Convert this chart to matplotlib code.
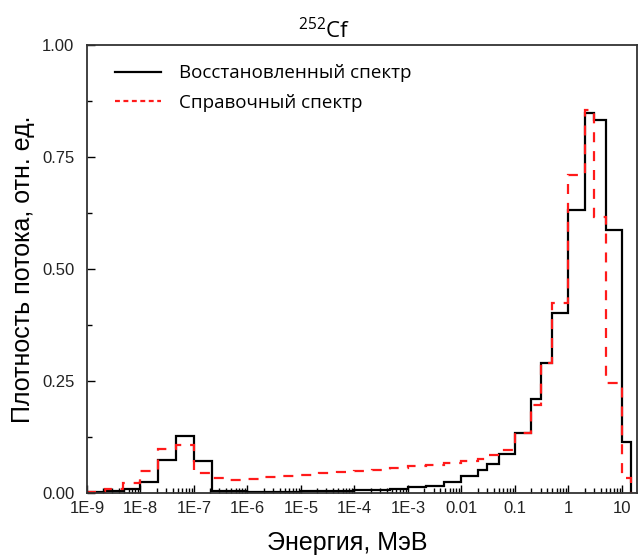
import matplotlib
matplotlib.use("Agg")
import matplotlib.pyplot as plt
from matplotlib.lines import Line2D
from matplotlib.ticker import FixedLocator, FixedFormatter, MultipleLocator, LogLocator, NullFormatter

# границы энергетических групп, МэВ
edges = [1e-9, 2.15e-9, 4.64e-9, 1e-8, 2.15e-8, 4.64e-8, 1e-7, 2.15e-7, 4.64e-7,
         1e-6, 2.15e-6, 4.64e-6, 1e-5, 2.15e-5, 4.64e-5, 1e-4, 2.15e-4, 4.64e-4,
         1e-3, 2.15e-3, 4.64e-3, 0.01, 0.02, 0.03, 0.05, 0.1, 0.2, 0.3, 0.5,
         1.0, 2.0, 3.0, 5.0, 10.0, 15.0]

# восстановленный спектр
restored = [0.003, 0.005, 0.008, 0.025, 0.074, 0.128, 0.071, 0.004, 0.004,
            0.003, 0.003, 0.003, 0.004, 0.004, 0.004, 0.006, 0.007, 0.008,
            0.013, 0.016, 0.025, 0.038, 0.051, 0.064, 0.086, 0.134, 0.210,
            0.291, 0.402, 0.633, 0.849, 0.833, 0.588, 0.114]

# справочный спектр
reference = [0.003, 0.008, 0.022, 0.049, 0.098, 0.107, 0.045, 0.034, 0.029,
             0.031, 0.035, 0.038, 0.041, 0.044, 0.046, 0.049, 0.052, 0.056,
             0.060, 0.063, 0.067, 0.072, 0.077, 0.084, 0.095, 0.134, 0.197,
             0.290, 0.425, 0.710, 0.855, 0.617, 0.245, 0.034]

xticks = [1e-9, 1e-8, 1e-7, 1e-6, 1e-5, 1e-4, 1e-3, 1e-2, 1e-1, 1, 10]
xticklabels = ["1E-9", "1E-8", "1E-7", "1E-6", "1E-5", "1E-4", "1E-3",
               "0.01", "0.1", "1", "10"]

legend_font = "Open Sans"
axis_font = "Liberation Sans"

fig = plt.figure(figsize=(6.44, 5.58), dpi=100)
ax = fig.add_axes([0.135, 0.1165, 0.854, 0.8025])

ax.stairs(restored, edges, color="black", linewidth=1.6, baseline=0)
ax.stairs(reference, edges, color="#ff1a1a", linewidth=1.6, baseline=0,
          linestyle=(0, (4.5, 4)))

ax.set_xscale("log")
ax.set_xlim(1e-9, 19)
ax.set_ylim(0, 1.0)

ax.xaxis.set_major_locator(FixedLocator(xticks))
ax.xaxis.set_major_formatter(FixedFormatter(xticklabels))
ax.xaxis.set_minor_locator(LogLocator(base=10, subs=range(2, 10), numticks=40))
ax.xaxis.set_minor_formatter(NullFormatter())
ax.yaxis.set_major_locator(MultipleLocator(0.25))
ax.yaxis.set_minor_locator(MultipleLocator(0.125))
ax.yaxis.set_major_formatter(plt.FuncFormatter(lambda v, p: f"{v:.2f}"))

ax.tick_params(which="both", direction="in", top=False, right=False)
ax.tick_params(which="major", length=6, width=1.0, labelsize=12)
ax.tick_params(axis="x", which="major", pad=6)
ax.tick_params(axis="y", which="major", pad=9)
ax.tick_params(which="minor", length=3.5, width=1.0)
for lab in ax.get_xticklabels() + ax.get_yticklabels():
    lab.set_fontfamily(axis_font)
    lab.set_color("#222222")

for sp in ax.spines.values():
    sp.set_linewidth(1.3)
    sp.set_color("#333333")

ax.set_xlabel("Энергия, МэВ", fontsize=18, fontfamily=axis_font)
ax.set_ylabel("Плотность потока, отн. ед.", fontsize=18, fontfamily=axis_font)
ax.xaxis.set_label_coords(0.473, -0.085)
ax.yaxis.set_label_coords(-0.095, 0.5)

ax.set_title(r"$^{\mathregular{252}}$Cf", fontsize=16, fontfamily=legend_font,
             x=0.432, pad=5)

handles = [Line2D([], [], color="black", linewidth=1.6),
           Line2D([], [], color="#ff1a1a", linewidth=1.6, linestyle=(0, (2.2, 1.6)))]
ax.legend(handles, ["Восстановленный спектр", "Справочный спектр"],
          loc="upper left", bbox_to_anchor=(0.02, 0.995), frameon=False,
          prop={"family": legend_font, "size": 13.5}, handlelength=2.45,
          handletextpad=0.95, labelspacing=0.62)

fig.savefig("out.png", dpi=100)
